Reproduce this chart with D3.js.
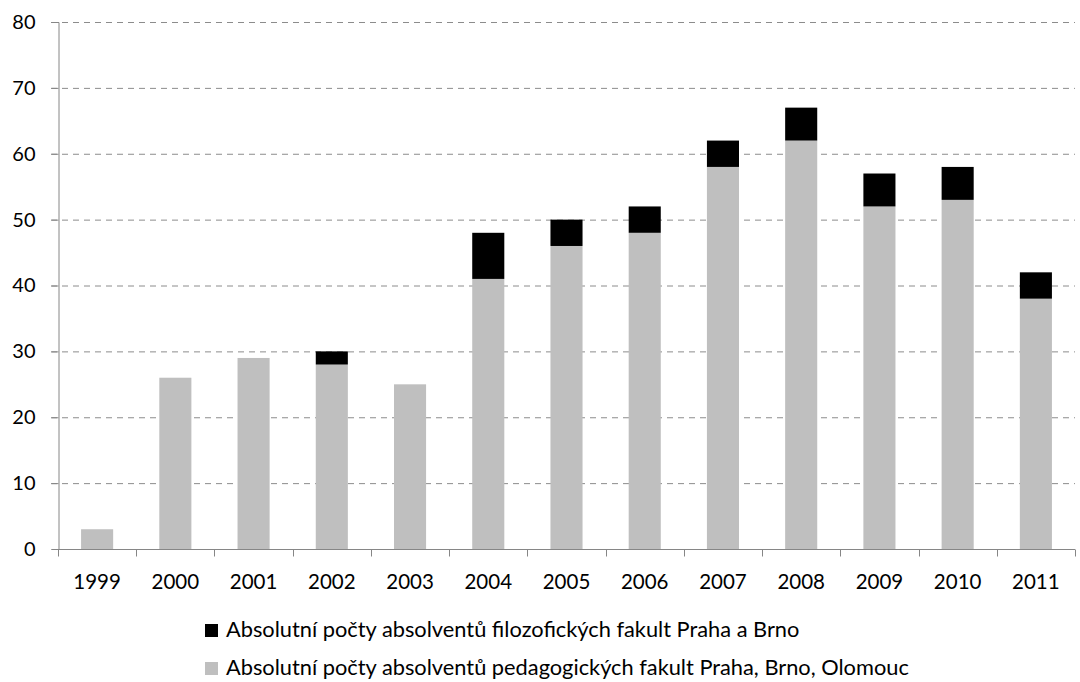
<!DOCTYPE html>
<html>
<head>
<meta charset="utf-8">
<script src="https://cdn.jsdelivr.net/npm/d3@7/dist/d3.min.js"></script>
<style>
  body { margin: 0; background: #fff; }
  svg text { font-family: Lato, "Open Sans", sans-serif; fill: #000; }
</style>
</head>
<body>
<div id="chart"></div>
<script>
const years = ['1999', '2000', '2001', '2002', '2003', '2004', '2005', '2006', '2007', '2008', '2009', '2010', '2011'];
const pedagogicke = [3, 26, 29, 28, 25, 41, 46, 48, 58, 62, 52, 53, 38];
const filozoficke = [0, 0, 0, 2, 0, 7, 4, 4, 4, 5, 5, 5, 4];
const yTicks = [0, 10, 20, 30, 40, 50, 60, 70, 80];
const seriesNames = [
  'Absolutní počty absolventů filozofických fakult Praha a Brno',
  'Absolutní počty absolventů pedagogických fakult Praha, Brno, Olomouc'
];

const width = 1080;
const height = 682;
const margin = { top: 22, right: 5, bottom: 133, left: 58 };

const svg = d3.select('#chart')
  .append('svg')
  .attr('width', width)
  .attr('height', height);

const x = d3.scaleBand()
  .domain(years)
  .range([margin.left, width - margin.right])
  .paddingInner(0.59)
  .paddingOuter(0.295);

const y = d3.scaleLinear()
  .domain([0, 80])
  .range([height - margin.bottom, margin.top]);

// gridlines
svg.append('g')
  .selectAll('line')
  .data(yTicks.slice(1))
  .enter()
  .append('line')
  .attr('x1', margin.left - 7)
  .attr('x2', width - margin.right)
  .attr('y1', d => y(d) + 0.5)
  .attr('y2', d => y(d) + 0.5)
  .attr('stroke', '#8c8c8c')
  .attr('stroke-width', 1)
  .attr('stroke-dasharray', '6,5');

const stacked = years.map((yr, i) => ({
  year: yr,
  ped: pedagogicke[i],
  fil: filozoficke[i]
}));

const gBars = svg.append('g');

// grey part
gBars.selectAll('rect.ped')
  .data(stacked)
  .enter()
  .append('rect')
  .attr('class', 'ped')
  .attr('x', d => x(d.year))
  .attr('width', x.bandwidth())
  .attr('y', d => y(d.ped))
  .attr('height', d => y(0) - y(d.ped))
  .attr('fill', '#bfbfbf');

// black part on top
gBars.selectAll('rect.fil')
  .data(stacked.filter(d => d.fil > 0))
  .enter()
  .append('rect')
  .attr('class', 'fil')
  .attr('x', d => x(d.year))
  .attr('width', x.bandwidth())
  .attr('y', d => y(d.ped + d.fil))
  .attr('height', d => y(d.ped) - y(d.ped + d.fil))
  .attr('fill', '#000');

// y axis
const yAxis = svg.append('g')
  .attr('transform', `translate(${margin.left + 0.5},0)`)
  .call(d3.axisLeft(y).tickValues(yTicks).tickSize(7).tickPadding(16));
yAxis.selectAll('text').attr('font-size', '20px').attr('font-family', 'Lato, "Open Sans", sans-serif');
yAxis.select('.domain').attr('stroke', '#868686');
yAxis.selectAll('.tick line').attr('stroke', '#868686');

// x axis: ticks at category boundaries
const step = x.step();
const gx = svg.append('g')
  .attr('transform', `translate(0,${y(0) + 0.5})`);
gx.append('line')
  .attr('x1', margin.left)
  .attr('x2', width - margin.right)
  .attr('stroke', '#868686');
gx.selectAll('line.tk')
  .data(d3.range(years.length + 1))
  .enter()
  .append('line')
  .attr('class', 'tk')
  .attr('x1', i => Math.round(margin.left + i * step) + 0.5)
  .attr('x2', i => Math.round(margin.left + i * step) + 0.5)
  .attr('y1', 0)
  .attr('y2', 7)
  .attr('stroke', '#868686');
gx.selectAll('text')
  .data(years)
  .enter()
  .append('text')
  .attr('x', d => x(d) + x.bandwidth() / 2)
  .attr('y', 39)
  .attr('text-anchor', 'middle')
  .attr('font-size', '20.5px')
  .text(d => d);

// legend
const legend = svg.append('g');
const legendColors = ['#000', '#bfbfbf'];
seriesNames.forEach((name, i) => {
  const ly = 630 + i * 38;
  legend.append('rect')
    .attr('x', 205)
    .attr('y', ly - 6)
    .attr('width', 13)
    .attr('height', 13)
    .attr('fill', legendColors[i]);
  legend.append('text')
    .attr('x', 226)
    .attr('y', ly + 7)
    .attr('font-size', '21.8px')
    .text(name);
});
</script>
</body>
</html>
